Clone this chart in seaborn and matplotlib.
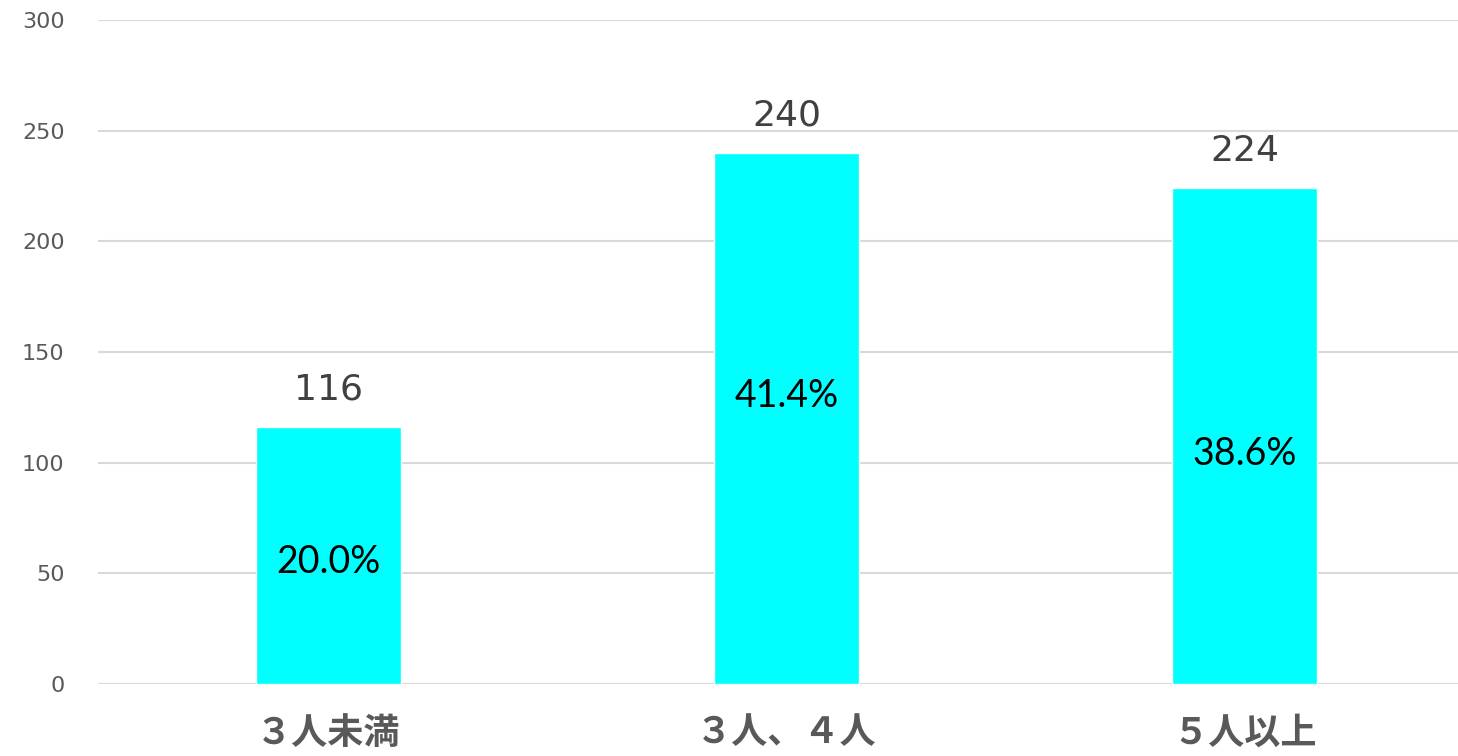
import matplotlib
matplotlib.use("Agg")
import matplotlib.pyplot as plt
import seaborn as sns

# データ
categories = ["３人未満", "３人、４人", "５人以上"]
counts = [116, 240, 224]
shares = ["20.0%", "41.4%", "38.6%"]
# 割合ラベルの縦位置（棒の中）
share_label_y = [55, 130, 104]


def plot_chart():
    sns.set_theme(style="white")
    plt.rcParams["font.family"] = ["Noto Sans CJK JP", "DejaVu Sans"]

    fig = plt.figure(figsize=(14.58, 7.56), dpi=100)
    ax = fig.add_axes([98 / 1458, 72 / 756, 1 - 98 / 1458, 664 / 756])

    sns.barplot(x=categories, y=counts, color="#00FFFF", saturation=1,
                width=0.316, ax=ax, zorder=3)

    ax.set_xlim(-0.502, 2.465)
    ax.set_ylim(0, 300)
    ax.set_yticks(range(0, 301, 50))
    ax.yaxis.grid(True, color="#d9d9d9", linewidth=1.5, zorder=0)
    ax.set_axisbelow(True)
    for s in ax.spines.values():
        s.set_visible(False)
    ax.set_xlabel("")
    ax.set_ylabel("")

    ax.tick_params(axis="y", length=0, pad=24, labelsize=16, labelcolor="#595959")
    ax.tick_params(axis="x", length=0, pad=22, labelsize=26, labelcolor="#595959")
    for lab in ax.get_xticklabels():
        lab.set_fontweight("bold")
    for lab in ax.get_yticklabels():
        lab.set_family(["DejaVu Sans"])

    # 値ラベルと割合ラベル
    for i, (v, p) in enumerate(zip(counts, shares)):
        ax.annotate(str(v), (i, v), xytext=(0, 27), textcoords="offset points",
                    ha="center", va="center", fontsize=26, color="#404040",
                    family=["DejaVu Sans"])
        ax.text(i, share_label_y[i], p, ha="center", va="center",
                fontsize=27, color="black", family=["Lato", "DejaVu Sans"],
                zorder=4)

    fig.savefig("out.png", dpi=100)


if __name__ == "__main__":
    plot_chart()
